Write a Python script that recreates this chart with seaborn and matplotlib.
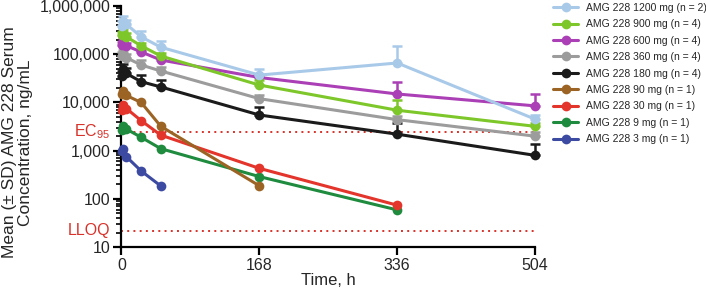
import numpy as np
import pandas as pd
import matplotlib
matplotlib.use("Agg")
import matplotlib.pyplot as plt
import matplotlib.ticker as mticker
import matplotlib.transforms as mtransforms
import seaborn as sns

# dose groups, top of the legend first
doses = ["AMG 228 1200 mg (n = 2)", "AMG 228 900 mg (n = 4)", "AMG 228 600 mg (n = 4)",
         "AMG 228 360 mg (n = 4)", "AMG 228 180 mg (n = 4)", "AMG 228 90 mg (n = 1)",
         "AMG 228 30 mg (n = 1)", "AMG 228 9 mg (n = 1)", "AMG 228 3 mg (n = 1)"]
colors = ["#a9c9e9", "#7ec72a", "#ab3fb5", "#9c9c9c", "#1b1b1b",
          "#9b6424", "#e3352b", "#1f8b3e", "#3c4ba1"]

t_full = [0.5, 2, 6, 24, 48, 168, 336, 504]
t_90 = [0.5, 2, 6, 24, 48, 168]
t_30 = [0.5, 2, 6, 24, 48, 168, 336]
t_3 = [0.5, 2, 6, 24, 48]

conc_1200 = [380000, 500000, 420000, 230000, 140000, 37000, 66000, 4500]
conc_900 = [250000, 290000, 230000, 150000, 92000, 23000, 6900, 3200]
conc_600 = [155000, 190000, 150000, 112000, 76000, 33000, 15000, 8500]
conc_360 = [92000, 105000, 85000, 60000, 45000, 12000, 4400, 2000]
conc_180 = [35000, 50000, 40000, 27000, 21000, 5500, 2200, 800]
conc_90 = [15000, 17000, 14000, 10000, 3200, 187]
conc_30 = [7000, 9000, 7500, 4200, 2100, 430, 74]
conc_9 = [2700, 3200, 2800, 1900, 1100, 290, 59]
conc_3 = [1000, 1070, 750, 380, 185]

# mean + SD (top of error bar), n > 1 groups only
upper_1200 = [480000, 620000, 520000, 300000, 190000, 49000, 148000, 5500]
upper_900 = [290000, 330000, 270000, 175000, 105000, 29000, 11000, 3800]
upper_600 = [180000, 215000, 170000, 125000, 85000, 38000, 26000, 15000]
upper_360 = [110000, 120000, 100000, 76000, 55000, 14000, 5200, 2400]
upper_180 = [45000, 62000, 52000, 37000, 29000, 8200, 3700, 1400]

ec95 = 2500
lloq = 22

times = [t_full, t_full, t_full, t_full, t_full, t_90, t_30, t_30, t_3]
concs = [conc_1200, conc_900, conc_600, conc_360, conc_180, conc_90, conc_30, conc_9, conc_3]
uppers = [upper_1200, upper_900, upper_600, upper_360, upper_180, None, None, None, None]

df = pd.concat([pd.DataFrame({"time": t, "conc": c, "dose": d})
                for t, c, d in zip(times, concs, doses)], ignore_index=True)

sns.set_style("ticks")
plt.rcParams["font.family"] = ["Liberation Sans", "DejaVu Sans"]
plt.rcParams["mathtext.default"] = "regular"

fig = plt.figure(figsize=(7.06, 2.89), dpi=100)
ax = fig.add_axes([0.172, 0.145, 0.586, 0.834])

red = "#d8322a"
ax.axhline(ec95, color=red, ls=(0, (1, 2.2)), lw=1.4, zorder=1)
ax.axhline(lloq, color=red, ls=(0, (1, 2.2)), lw=1.4, zorder=1)

n = len(doses)
for i in range(n - 1, -1, -1):
    sub = df[df["dose"] == doses[i]]
    if uppers[i] is not None:
        c = np.array(concs[i], dtype=float)
        up = np.array(uppers[i], dtype=float)
        ax.errorbar(times[i], c, yerr=[np.zeros_like(c), up - c], fmt="none",
                    ecolor=colors[i], elinewidth=1.8, capsize=3.5, capthick=1.8,
                    zorder=10 + n - i, clip_on=False)
    sns.lineplot(data=sub, x="time", y="conc", color=colors[i], marker="o",
                 markersize=7, markeredgewidth=0, linewidth=2.2, ax=ax,
                 label=doses[i], zorder=10 + n - i, clip_on=False)

ax.set_yscale("log")
ax.set_ylim(10, 1000000)
ax.set_xlim(0, 504)
ax.set_xticks([0, 168, 336, 504])
ax.yaxis.set_major_locator(mticker.LogLocator(base=10, numticks=10))
ax.yaxis.set_minor_locator(mticker.LogLocator(base=10, subs=np.arange(2, 10), numticks=20))
ax.yaxis.set_major_formatter(mticker.FuncFormatter(lambda v, p: f"{int(round(v)):,}"))
ax.yaxis.set_minor_formatter(mticker.NullFormatter())

for s in ["top", "right"]:
    ax.spines[s].set_visible(False)
for s in ["left", "bottom"]:
    ax.spines[s].set_linewidth(1.6)
    ax.spines[s].set_color("black")
ax.tick_params(axis="both", which="major", length=6, width=1.6, labelsize=11.5, color="black", pad=2)
ax.tick_params(axis="y", which="minor", length=3.5, width=1.2, color="black")

ax.set_xlabel("Time, h", fontsize=12, labelpad=0)
ax.set_ylabel("Mean (± SD) AMG 228 Serum\nConcentration, ng/mL", fontsize=12.5, linespacing=1.05)
ax.yaxis.set_label_coords(-0.214, 0.434)

trans = mtransforms.blended_transform_factory(ax.transAxes, ax.transData)
ax.text(-0.028, ec95, "EC$_{95}$", color=red, fontsize=11.5, ha="right", va="center", transform=trans)
ax.text(-0.028, lloq, "LLOQ", color=red, fontsize=11.5, ha="right", va="center", transform=trans)

handles, labels = ax.get_legend_handles_labels()
order = [labels.index(d) for d in doses]
leg = ax.legend([handles[k] for k in order], [labels[k] for k in order],
                loc="upper left", bbox_to_anchor=(0.778, 1.005), bbox_transform=fig.transFigure,
                frameon=False, fontsize=7.5, labelspacing=0.62, handlelength=2.4,
                handletextpad=0.7, borderaxespad=0)

fig.savefig("out.png", dpi=100)
